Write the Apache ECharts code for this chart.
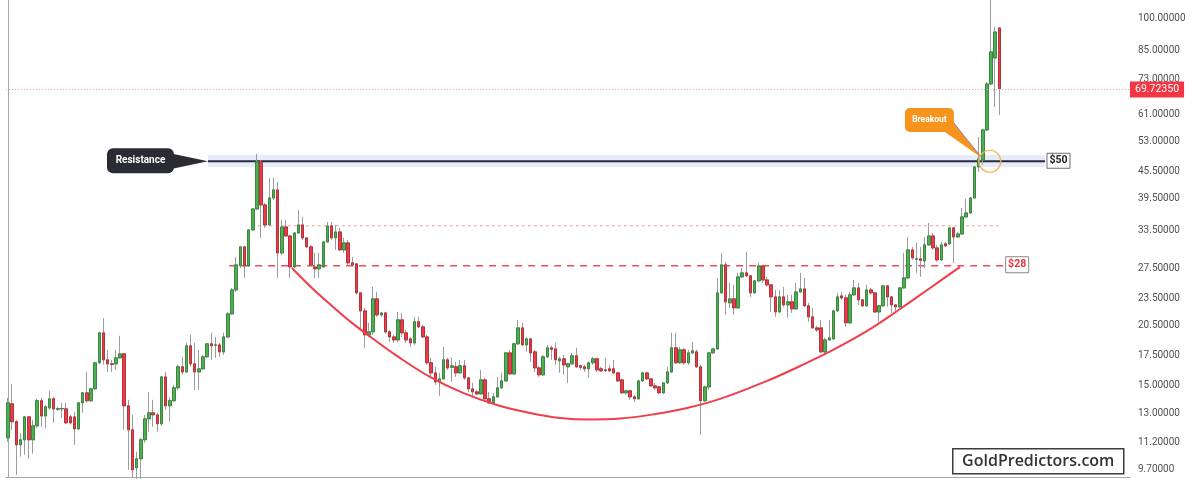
<!DOCTYPE html>
<html>
<head>
<meta charset="utf-8">
<script src="https://cdn.jsdelivr.net/npm/echarts@6/dist/echarts.min.js"></script>
<style>
html,body{margin:0;padding:0;background:#fff;}
#chart{width:1200px;height:480px;}
</style>
</head>
<body>
<div id="chart"></div>
<script>
// ---------- DATA ----------
const opens = [
11.46,13.66,12.45,11.05,11.34,12.77,11.34,12.19,13.88,12.83,
13.38,14.02,13.28,13.31,13.31,12.77,12.77,12.00,13.73,14.46,
13.88,14.76,16.89,19.72,17.15,16.80,16.80,17.33,17.69,13.52,
11.94,9.81,10.28,11.34,12.64,13.04,12.90,12.32,15.70,13.52,
13.88,14.84,16.54,16.11,18.44,16.80,16.11,16.37,17.42,18.63,
18.49,18.53,17.87,19.31,21.75,24.62,27.88,30.76,27.88,33.58,
37.43,47.73,38.21,34.46,39.62,41.30,29.81,34.10,32.55,27.73,
33.06,34.46,32.22,30.76,27.73,27.45,27.73,31.56,34.28,32.22,
33.23,30.28,31.40,28.32,28.17,24.25,22.09,19.52,19.82,23.51,
21.64,21.86,19.82,19.31,19.01,21.09,19.72,19.11,18.72,20.88,
20.34,19.31,16.89,16.03,15.30,15.54,17.15,16.50,16.54,16.03,
16.63,15.62,14.76,14.53,14.38,15.46,14.02,13.73,14.16,14.84,
15.38,17.78,15.95,18.63,20.23,18.53,19.11,17.87,16.45,15.87,
17.42,18.25,18.15,17.06,17.24,16.54,16.80,17.51,16.63,16.54,
16.37,16.89,17.24,16.37,16.28,16.37,16.37,16.03,15.46,14.46,
14.61,14.16,14.02,15.38,16.03,15.54,14.99,14.91,14.46,15.22,
16.11,18.25,16.89,18.06,16.89,17.78,17.87,16.54,13.88,14.91,
17.78,18.15,24.25,28.03,23.03,23.51,22.44,26.34,26.89,26.48,
24.25,25.80,27.88,25.93,25.27,23.75,21.97,23.75,22.79,23.15,
22.32,24.37,24.75,22.68,21.42,20.23,20.23,17.87,19.01,19.11,
22.09,23.87,23.63,20.77,24.00,24.88,23.39,22.68,24.62,24.25,
21.97,22.68,25.14,23.75,22.79,22.56,24.88,26.20,30.28,28.84,
28.91,28.61,31.08,32.55,30.60,28.76,31.24,31.24,33.93,32.38,
32.89,35.92,36.67,39.62,46.51,48.23,56.32,71.45,81.74,95.45
];
const closes = [
13.73,12.45,11.05,11.34,12.77,11.34,12.19,13.88,12.83,13.45,
14.02,13.31,13.32,13.33,12.38,12.38,12.00,13.73,14.46,13.88,
14.76,16.89,19.72,17.15,16.80,16.76,17.33,17.69,13.52,11.94,
9.71,10.28,11.34,12.64,13.04,12.90,12.32,15.70,13.52,13.88,
14.84,16.54,16.11,18.44,16.80,16.11,16.37,17.42,18.63,18.44,
18.53,17.87,19.31,21.75,24.62,28.03,30.76,27.88,33.58,37.43,
47.73,38.21,34.46,39.62,41.30,29.81,34.10,32.55,27.73,33.06,
34.46,32.22,30.76,28.03,27.45,28.03,31.56,34.28,32.22,33.23,
30.28,31.40,28.32,28.03,24.25,22.09,19.52,19.82,23.51,21.64,
21.86,19.82,19.31,19.01,21.09,19.72,19.01,18.72,20.88,20.34,
19.31,16.89,16.03,15.30,15.54,17.15,16.45,16.63,16.03,16.63,
15.62,14.76,14.53,14.38,15.46,14.02,13.73,14.16,14.84,15.38,
17.78,15.95,18.63,20.23,18.53,19.11,17.78,16.45,15.87,17.42,
18.25,18.11,17.15,17.24,16.71,16.80,17.51,16.54,16.50,16.37,
16.89,17.24,16.28,16.20,16.22,16.20,16.03,15.38,14.46,14.61,
14.16,14.02,15.38,16.03,15.54,14.99,14.84,14.46,15.22,16.11,
18.25,16.89,18.06,16.89,17.78,17.97,16.54,13.88,14.91,17.78,
18.15,24.25,28.03,23.15,23.51,22.44,26.34,26.89,26.48,24.25,
25.80,27.88,25.93,25.27,23.75,21.97,23.75,22.79,23.15,22.32,
24.37,24.75,22.68,21.42,20.23,20.03,17.87,19.01,19.21,22.09,
23.75,23.63,20.77,24.00,24.88,23.39,22.68,24.62,24.25,21.97,
22.68,25.14,23.75,22.79,22.56,24.88,26.20,30.28,29.06,28.91,
28.69,31.08,32.55,30.60,28.76,31.08,30.92,33.93,32.38,32.89,
35.92,36.67,39.62,46.51,48.48,56.32,71.45,84.33,93.49,69.7235
];
const lows = [
11.22,11.94,9.46,10.39,10.50,10.28,10.55,12.06,12.13,12.06,
13.24,12.38,13.17,12.70,12.32,12.26,11.05,11.94,13.04,13.73,
13.80,14.68,16.80,16.71,16.11,16.11,16.28,17.24,11.94,9.71,
9.32,9.27,9.27,11.17,11.82,12.13,11.82,12.19,13.24,12.45,
13.80,14.68,15.87,16.03,16.54,14.68,14.68,16.28,17.33,17.15,
17.33,17.42,17.60,19.21,21.64,24.37,27.59,26.20,27.73,33.40,
37.24,32.22,33.93,34.28,39.22,26.20,29.51,32.38,26.20,27.59,
32.89,31.88,30.60,27.73,26.20,26.20,27.59,31.40,31.88,30.28,
30.12,29.81,28.03,27.73,24.00,20.23,18.25,19.31,19.52,21.42,
21.42,19.62,18.82,18.72,18.82,19.31,18.72,18.34,18.53,20.23,
19.21,16.71,15.70,15.07,14.23,15.46,16.28,15.30,15.70,15.95,
15.46,14.53,14.09,14.31,14.31,13.95,13.66,13.66,14.09,14.76,
15.30,15.87,15.87,18.53,18.44,17.87,16.97,16.11,15.70,15.78,
17.33,17.15,16.71,16.03,15.87,15.22,16.71,16.45,16.28,16.11,
15.62,16.71,16.11,16.11,16.11,16.11,15.95,15.30,14.38,14.31,
13.95,13.80,13.95,15.30,15.46,14.91,14.68,14.38,14.38,15.15,
16.03,16.80,16.80,16.71,16.71,17.69,16.45,11.64,13.80,14.68,
17.69,18.06,24.12,21.64,22.44,21.64,22.32,26.20,26.34,23.75,
24.12,25.66,25.53,25.01,21.97,21.42,21.86,22.56,21.31,21.86,
22.21,24.25,22.56,20.88,20.13,19.82,17.78,17.60,18.92,19.01,
21.97,23.39,20.34,20.66,23.87,22.79,22.56,22.56,24.00,21.86,
20.88,22.56,22.56,21.86,21.97,22.44,24.75,26.07,28.76,26.89,
26.34,27.59,30.92,30.28,28.46,28.61,30.76,31.08,28.32,32.22,
32.72,35.74,36.48,39.42,45.32,47.00,56.03,71.08,63.42,60.86
];
const highs = [
14.09,15.15,12.57,11.75,12.83,12.83,12.57,14.02,14.09,13.59,
14.61,14.16,13.45,13.73,13.73,12.90,13.10,13.80,14.53,16.12,
14.84,16.97,19.82,21.30,18.06,17.15,18.06,19.42,17.78,13.95,
12.90,10.66,11.46,12.90,14.53,13.95,13.04,15.78,16.11,14.16,
15.07,16.71,17.42,18.72,19.52,18.72,18.06,17.60,18.72,19.72,
19.31,18.72,19.72,21.97,24.88,29.20,30.92,30.92,33.75,37.63,
49.75,48.23,38.61,43.94,43.94,43.04,35.37,35.37,32.72,33.23,
37.24,35.92,32.38,31.08,29.81,29.81,31.72,35.00,35.00,34.46,
33.93,32.22,31.88,29.21,28.32,24.37,22.44,20.77,25.01,24.37,
21.97,21.97,20.03,19.52,21.97,21.86,20.03,19.31,21.42,21.42,
20.55,19.52,17.33,16.54,16.03,18.34,17.33,17.33,16.97,17.15,
17.15,15.70,15.22,14.68,16.28,15.62,14.53,14.46,15.70,16.03,
17.87,18.06,18.72,21.09,20.77,19.31,19.21,18.06,16.63,17.60,
18.53,18.44,18.72,17.42,17.60,16.89,17.78,18.25,16.71,16.71,
16.97,17.42,17.33,16.54,17.33,16.71,17.15,16.11,15.54,14.68,
14.68,14.31,15.46,16.11,16.11,15.62,15.22,14.99,15.30,16.54,
19.72,19.72,18.34,18.25,18.06,18.82,18.06,16.71,14.99,17.87,
18.25,26.20,29.81,28.46,25.53,25.27,26.89,27.59,29.96,26.61,
25.93,28.32,28.03,26.34,25.40,24.62,24.62,25.01,24.00,24.00,
25.53,26.89,26.20,23.03,22.44,20.45,21.09,19.21,21.09,22.21,
24.25,24.37,24.00,24.37,25.93,25.53,23.51,25.27,24.88,24.37,
22.79,25.27,25.27,23.87,22.91,25.01,29.81,32.38,30.76,31.40,
30.76,32.38,34.82,33.06,31.08,31.56,31.56,34.10,34.10,33.23,
37.63,39.42,39.83,46.75,54.32,56.61,72.19,113.0,95.95,95.95
];

const priceTicks = [100, 85, 73, 61, 53, 45.5, 39.5, 33.5, 27.5, 23.5, 20.5, 17.5, 15, 13, 11.2, 9.7];
const yRange = [9.355, 110.3];
const slotCount = 271;
const lastPrice = 69.7235;

// levels (price) and their drawn spans (bar positions)
const resistanceLevel = 47.9;
const resistanceBand = [46.5, 49.5];
const resistanceSpan = [48.2, 250.0];
const supportLevel = 27.9;
const supportSpan = [53.3, 240.4];
const upperLevel = 34.3;
const upperSpan = [60.2, 239.5];

// cup arc (bar position, price)
const arcX = [68.44,73.26,78.09,82.91,87.73,93.76,101.72,109.68,117.88,125.84,133.08,140.31,147.55,154.78,163.71,171.66,183.0,190.96,198.91,207.11,215.07,222.3,229.54];
const arcP = [27.58,24.87,22.66,20.76,19.20,17.50,15.70,14.45,13.58,13.03,12.70,12.60,12.66,12.90,13.37,14.01,15.38,16.61,18.05,19.91,22.31,24.87,27.73];

// annotation anchors: [bar position, price, kind]
const annoX = [48.2, 234.8, 236.7, 250.0, 240.4];
const annoP = [47.9, 48.7, 47.9, 47.9, 27.9];
const annoKind = [0, 1, 2, 3, 4];

// ---------- BUILD ----------
const L = Math.log;
const categories = Array.from({length: slotCount}, (_, i) => String(i + 1));
const tickLn = priceTicks.map(L);
const candleData = opens.map((o, i) => [L(o), L(closes[i]), L(lows[i]), L(highs[i])]);
const bodyData = opens.map((o, i) => {
  const c = closes[i];
  return [L(o), L(c), L(Math.min(o, c)), L(Math.max(o, c))];
});
const arcData = arcX.map((x, i) => [x, L(arcP[i])]);
const annoData = annoX.map((x, i) => [x, L(annoP[i]), annoKind[i]]);

function txt(x, y, text, font, fill) {
  return {type: 'text', x: x, y: y, style: {text: text, font: font, fill: fill,
    align: 'center', verticalAlign: 'middle', textAlign: 'center', textVerticalAlign: 'middle'}};
}

function renderAnno(params, api) {
  const kind = api.value(2);
  const p = api.coord([api.value(0), api.value(1)]);
  const x = p[0], y = p[1];
  if (kind === 0) {
    const fill = '#2b2b33';
    return {type: 'group', children: [
      {type: 'polygon', shape: {points: [[x - 38, y - 8], [x, y], [x - 38, y + 8]]}, style: {fill: fill}},
      {type: 'rect', shape: {x: x - 101, y: y - 13, width: 67, height: 25, r: 6}, style: {fill: fill}},
      txt(x - 67.5, y - 0.5, 'Resistance', 'bold 10px Roboto', '#ffffff')
    ]};
  }
  if (kind === 1) {
    const fill = '#f7941d';
    return {type: 'group', children: [
      {type: 'polygon', shape: {points: [[x - 37, y - 26], [x - 28, y - 35], [x, y]]}, style: {fill: fill}},
      {type: 'line', shape: {x1: x - 28, y1: y - 35, x2: x, y2: y}, style: {stroke: '#7d6fd0', lineWidth: 0.8}},
      {type: 'rect', shape: {x: x - 77, y: y - 50, width: 49, height: 24, r: 5}, style: {fill: fill}},
      txt(x - 52.5, y - 38, 'Breakout', 'bold 8.5px Roboto', '#ffffff')
    ]};
  }
  if (kind === 2) {
    return {type: 'circle', shape: {cx: x, cy: y, r: 11}, style: {fill: 'none', stroke: '#f6b552', lineWidth: 1.2}};
  }
  if (kind === 3) {
    return {type: 'group', children: [
      {type: 'rect', shape: {x: x + 2, y: y - 8, width: 23, height: 15}, style: {fill: '#ffffff', stroke: '#6b6b6b', lineWidth: 1}},
      txt(x + 13.5, y - 0.5, '$50', 'bold 10.5px Roboto', '#222222')
    ]};
  }
  return {type: 'group', children: [
    {type: 'rect', shape: {x: x + 0.5, y: y - 9, width: 23, height: 16}, style: {fill: '#ffffff', stroke: '#8a8a8a', lineWidth: 1}},
    txt(x + 12, y - 1, '$28', 'bold 10.5px Roboto', '#e8333f')
  ]};
}

const chart = echarts.init(document.getElementById('chart'), null, {renderer: 'canvas'});
chart.setOption({
  animation: false,
  backgroundColor: '#ffffff',
  grid: {left: 6, right: 70, top: 0, bottom: 3, containLabel: false, outerBoundsMode: 'none'},
  xAxis: [
    {type: 'category', data: categories, boundaryGap: true,
     axisLine: {show: true, lineStyle: {color: '#a8a8a8', width: 1}},
     axisTick: {show: false}, axisLabel: {show: false}, splitLine: {show: false}},
    {type: 'value', min: -0.5, max: slotCount - 0.5, show: false, splitLine: {show: false}}
  ],
  yAxis: {
    type: 'value', position: 'right', min: L(yRange[0]), max: L(yRange[1]),
    axisLine: {show: true, lineStyle: {color: '#a8a8a8', width: 1}},
    axisTick: {show: false}, splitLine: {show: false},
    axisLabel: {
      show: true, customValues: tickLn, margin: 8, fontSize: 10, color: '#505050', fontFamily: 'Roboto',
      padding: [4, 0, 0, 0],
      formatter: function (v) {
        const i = tickLn.findIndex(t => Math.abs(t - v) < 1e-4);
        return i >= 0 ? priceTicks[i].toFixed(5) : '';
      }
    }
  },
  series: [
    {
      name: 'Resistance', type: 'line', xAxisIndex: 1, z: 1, symbol: 'none', silent: true,
      data: [[resistanceSpan[0], L(resistanceLevel)], [resistanceSpan[1], L(resistanceLevel)]],
      lineStyle: {color: '#262a3c', width: 2.2},
      markArea: {silent: true, itemStyle: {color: 'rgba(110,140,235,0.17)'},
        data: [[{xAxis: resistanceSpan[0], yAxis: L(resistanceBand[1])}, {xAxis: resistanceSpan[1], yAxis: L(resistanceBand[0])}]]}
    },
    {
      name: 'Support', type: 'line', xAxisIndex: 1, z: 1, symbol: 'none', silent: true,
      data: [[supportSpan[0], L(supportLevel)], [supportSpan[1], L(supportLevel)]],
      lineStyle: {color: '#f04b57', width: 1.5, type: [7, 6]}
    },
    {
      name: 'Upper', type: 'line', xAxisIndex: 1, z: 1, symbol: 'none', silent: true,
      data: [[upperSpan[0], L(upperLevel)], [upperSpan[1], L(upperLevel)]],
      lineStyle: {color: '#f19ca4', width: 1, type: [3, 3]}
    },
    {
      name: 'wicks', type: 'candlestick', z: 2, barWidth: 3, silent: true,
      data: candleData,
      itemStyle: {color: 'transparent', color0: 'transparent', borderColor: '#9c9c9c', borderColor0: '#9c9c9c', borderWidth: 1}
    },
    {
      name: 'price', type: 'candlestick', z: 3, barWidth: 3, silent: true,
      data: bodyData,
      itemStyle: {color: '#4caf50', color0: '#ec3a47', borderColor: '#2e7d34', borderColor0: '#ad2630', borderWidth: 0.8},
      markLine: {
        silent: true, symbol: ['none', 'none'],
        lineStyle: {color: '#e9a2a8', width: 1, type: [1, 2]},
        label: {show: true, position: 'end', distance: 0, formatter: lastPrice.toFixed(5),
          backgroundColor: '#f23645', color: '#ffffff', fontSize: 10.5, fontFamily: 'Roboto', padding: [3, 5, 2, 5]},
        data: [{yAxis: L(lastPrice)}]
      }
    },
    {
      name: 'Cup', type: 'line', xAxisIndex: 1, z: 4, symbol: 'none', silent: true, smooth: 0.4,
      data: arcData, lineStyle: {color: '#f03e4b', width: 2}
    },
    {
      name: 'Annotations', type: 'custom', xAxisIndex: 1, z: 6, silent: true,
      data: annoData, encode: {x: 0, y: 1}, renderItem: renderAnno
    }
  ],
  graphic: [{
    type: 'group', left: 952, top: 448, z: 100,
    children: [
      {type: 'rect', shape: {x: 0, y: 0, width: 171, height: 25}, style: {fill: '#ffffff', stroke: '#3c3c3c', lineWidth: 1.5}},
      {type: 'text', x: 85.5, y: 13, style: {text: 'GoldPredictors.com', font: '600 16px "Open Sans"', fill: '#333333',
        align: 'center', verticalAlign: 'middle', textAlign: 'center', textVerticalAlign: 'middle'}}
    ]
  }]
});
</script>
</body>
</html>
